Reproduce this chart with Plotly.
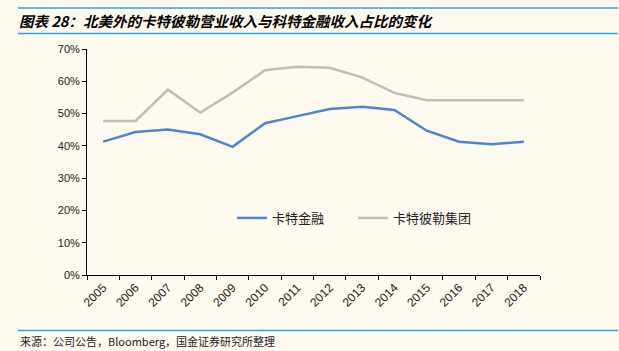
import plotly.graph_objects as go

years = ["2005", "2006", "2007", "2008", "2009", "2010", "2011", "2012", "2013", "2014", "2015", "2016", "2017", "2018"]
cat_finance = [41.3, 44.3, 45.1, 43.6, 39.7, 47.0, 49.2, 51.4, 52.1, 51.1, 44.7, 41.3, 40.5, 41.3]
cat_group = [47.7, 47.7, 57.4, 50.3, 56.5, 63.4, 64.5, 64.2, 61.2, 56.4, 54.1, 54.1, 54.1, 54.1]
y_ticks = [0, 10, 20, 30, 40, 50, 60, 70]
y_labels = ["0%", "10%", "20%", "30%", "40%", "50%", "60%", "70%"]

bg = "#FEFAF0"
cjk = "Noto Sans CJK SC"

fig = go.Figure()
fig.add_trace(go.Scatter(x=years, y=cat_finance, mode="lines", name="卡特金融",
                         line=dict(color="#4A85D6", width=2.5)))
fig.add_trace(go.Scatter(x=years, y=cat_group, mode="lines", name="卡特彼勒集团",
                         line=dict(color="#BDBDBD", width=2.5)))

W, H = 619, 351
L, R, T, B = 87, 540, 49, 275
pw, ph = R - L, B - T
def px(x): return (x - L) / pw
def py(y): return (B - y) / ph

fig.update_layout(
    width=W, height=H,
    margin=dict(l=L, r=W - R, t=T, b=H - B),
    paper_bgcolor=bg, plot_bgcolor=bg,
    showlegend=True,
    legend=dict(orientation="h", x=px(232), y=py(218), xanchor="left", yanchor="middle",
                bgcolor="rgba(0,0,0,0)", font=dict(family=cjk, size=13, color="#222"),
                itemwidth=30, entrywidth=76),
    xaxis=dict(type="category", range=[-0.5, 13.5], tickson="boundaries", ticks="outside",
               ticklen=4, tickcolor="#000", showline=True, linecolor="#000", linewidth=1,
               showgrid=False, tickangle=-45,
               tickfont=dict(family="Liberation Sans", size=12, color="#222")),
    yaxis=dict(range=[0, 70], tickvals=y_ticks, ticktext=y_labels, ticks="outside", ticklen=4,
               tickcolor="#000", showline=True, linecolor="#000", linewidth=1, showgrid=False,
               zeroline=False, tickfont=dict(family="Liberation Sans", size=11, color="#222")),
    shapes=[
        dict(type="line", xref="paper", yref="paper", x0=px(18), x1=px(618), y0=py(8), y1=py(8),
             line=dict(color="#29A3E0", width=1.5)),
        dict(type="line", xref="paper", yref="paper", x0=px(18), x1=px(618), y0=py(33.5), y1=py(33.5),
             line=dict(color="#29A3E0", width=1.5)),
        dict(type="line", xref="paper", yref="paper", x0=px(18), x1=px(618), y0=py(330.5), y1=py(330.5),
             line=dict(color="#29A3E0", width=1.5)),
    ],
    annotations=[
        dict(xref="paper", yref="paper", x=px(17), y=py(20.5), xanchor="left", yanchor="middle",
             showarrow=False, text="<b><i>图表 28：北美外的卡特彼勒营业收入与科特金融收入占比的变化</i></b>",
             font=dict(family=cjk, size=14.5, color="#000")),
        dict(xref="paper", yref="paper", x=px(18), y=py(341), xanchor="left", yanchor="middle",
             showarrow=False, text="来源：公司公告，Bloomberg，国金证券研究所整理",
             font=dict(family=cjk, size=11, color="#222")),
    ],
)

fig.write_html("out.html")
